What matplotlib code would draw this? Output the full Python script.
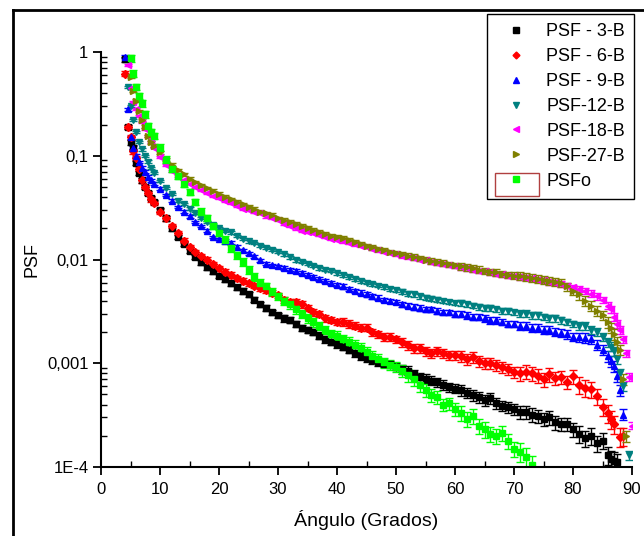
import numpy as np
import matplotlib
matplotlib.use("Agg")
import matplotlib.pyplot as plt
from matplotlib.lines import Line2D
from matplotlib.patches import Rectangle
from matplotlib.ticker import LogLocator, NullFormatter, MultipleLocator

plt.rcParams['font.family'] = ['Liberation Sans', 'DejaVu Sans']

nan = np.nan
# angle grid (degrees)
angles = ([4, 4.5, 5, 5.5, 6, 6.5, 7, 7.5, 8, 8.5] + list(range(9, 86)) +
          [86, 86.5, 87, 87.5, 88, 88.5, 89, 89.5, 90])

psf3 = [0.85, 0.19, 0.135, 0.12, 0.085, 0.068, 0.058, 0.050, 0.044, 0.039,
        0.036, 0.030, 0.025, 0.020, 0.0165, 0.0142, 0.0121, 0.0106, 0.0094, 0.0084, 0.0077, 0.0070,
        0.0065, 0.0059, 0.0054, 0.0050, 0.0046, 0.0041, 0.0037, 0.0034, 0.0031, 0.0029,
        0.0027, 0.0026, 0.0024, 0.0022, 0.0021, 0.0020, 0.00185, 0.0017, 0.0016, 0.00152,
        0.00145, 0.00135, 0.00125, 0.00118, 0.00113, 0.00108, 0.00103, 0.00099, 0.00098, 0.00093,
        0.00088, 0.00085, 0.00079, 0.00074, 0.00071, 0.00068, 0.00066, 0.00062, 0.00059, 0.00057,
        0.00055, 0.00052, 0.00049, 0.00047, 0.00044, 0.00046, 0.00041, 0.00039, 0.00038, 0.00036,
        0.00034, 0.00034, 0.00032, 0.00031, 0.00029, 0.00030, 0.00027, 0.00026, 0.00026, 0.00023,
        0.00021, 0.00019, 0.00020, 0.00017, 0.00018,
        0.00013, 0.00012, 0.000115, 0.000112, nan, nan, nan, nan, nan]

psf6 = [0.62, 0.19, 0.15, 0.11, 0.095, 0.075, 0.058, 0.050, 0.044, 0.038,
        0.035, 0.029, 0.025, 0.021, 0.018, 0.0152, 0.0132, 0.0118, 0.0108, 0.0100, 0.0090, 0.0082,
        0.0076, 0.0071, 0.0066, 0.0062, 0.0059, 0.0056, 0.0053, 0.0051, 0.0048, 0.0045,
        0.0041, 0.0039, 0.0039, 0.0037, 0.0034, 0.0031, 0.0030, 0.0027, 0.0026, 0.0025,
        0.0025, 0.0024, 0.0023, 0.0022, 0.0022, 0.0020, 0.0019, 0.0018, 0.0018, 0.0017,
        0.0016, 0.0015, 0.0014, 0.0014, 0.0013, 0.00125, 0.0013, 0.00126, 0.0012, 0.0012,
        0.00118, 0.0011, 0.00115, 0.00105, 0.0010, 0.0010, 0.00096, 0.00092, 0.00088, 0.00082,
        0.0008, 0.00083, 0.0008, 0.00076, 0.0007, 0.00078, 0.00072, 0.00074, 0.00066, 0.00075,
        0.00062, 0.00058, 0.00056, 0.00048, 0.00038,
        0.00033, 0.00029, 0.00026, nan, 0.000196, 0.0002, nan, nan, nan]

psf9 = [0.90, 0.28, 0.15, 0.12, 0.10, 0.087, 0.077, 0.070, 0.063, 0.058,
        0.054, 0.048, 0.042, 0.037, 0.032, 0.029, 0.026, 0.023, 0.021, 0.019, 0.0165, 0.0158,
        0.0152, 0.0145, 0.0132, 0.0123, 0.0115, 0.0107, 0.0098, 0.0091, 0.0088, 0.0086,
        0.0083, 0.0080, 0.0078, 0.0074, 0.0071, 0.0068, 0.0065, 0.0062, 0.0059, 0.0057,
        0.0055, 0.0052, 0.0050, 0.0048, 0.0046, 0.0044, 0.0043, 0.0041, 0.0040, 0.0039,
        0.0037, 0.0036, 0.0035, 0.0034, 0.0033, 0.0033, 0.0032, 0.0031, 0.0031, 0.0030,
        0.0030, 0.0029, 0.0028, 0.0028, 0.0027, 0.0026, 0.0026, 0.0025, 0.0024, 0.0024,
        0.0023, 0.0023, 0.0022, 0.0022, 0.0021, 0.0021, 0.0020, 0.00195, 0.0019, 0.0018,
        0.00178, 0.00175, 0.0017, 0.0015, 0.00135,
        0.00118, 0.00105, 0.00094, 0.00075, 0.00055, 0.00032, nan, nan, nan]

psf12 = [nan, 0.46, 0.30, 0.22, 0.17, 0.135, 0.115, 0.10, 0.088, 0.076,
         0.068, 0.057, 0.049, 0.043, 0.037, 0.034, 0.031, 0.028, 0.025, 0.023, 0.0215, 0.020,
         0.019, 0.0183, 0.0168, 0.0158, 0.0150, 0.0144, 0.0136, 0.0130, 0.0124, 0.0118,
         0.0112, 0.0105, 0.0099, 0.0095, 0.0091, 0.0087, 0.0083, 0.0080, 0.0078, 0.0074,
         0.0071, 0.0068, 0.0065, 0.0062, 0.0060, 0.0058, 0.0056, 0.0054, 0.0052, 0.0051,
         0.0049, 0.0047, 0.0046, 0.0044, 0.0043, 0.0042, 0.0041, 0.0040, 0.0039, 0.0038,
         0.0038, 0.0037, 0.0036, 0.0035, 0.0034, 0.0034, 0.0033, 0.0032, 0.0032, 0.0031,
         0.0030, 0.0030, 0.0029, 0.0029, 0.0028, 0.0027, 0.0027, 0.0026, 0.0025, 0.0024,
         0.0023, 0.0023, 0.0021, 0.0020, 0.0018,
         0.0016, 0.00145, 0.0013, 0.0011, 0.0008, 0.0006, nan, 0.00013, nan]

psf18 = [nan, 0.75, 0.45, 0.33, 0.28, 0.24, 0.21, 0.18, 0.155, 0.135,
         0.12, 0.097, 0.082, 0.071, 0.064, 0.059, 0.054, 0.050, 0.047, 0.044, 0.041, 0.039,
         0.037, 0.035, 0.033, 0.031, 0.030, 0.029, 0.028, 0.026, 0.025, 0.024,
         0.022, 0.021, 0.020, 0.019, 0.0185, 0.018, 0.0172, 0.0165, 0.0158, 0.0155,
         0.0150, 0.0145, 0.0140, 0.0135, 0.0132, 0.0127, 0.0123, 0.0119, 0.0116, 0.0112,
         0.0108, 0.0105, 0.0103, 0.0100, 0.0098, 0.0095, 0.0093, 0.0090, 0.0088, 0.0086,
         0.0084, 0.0082, 0.0080, 0.0078, 0.0077, 0.0075, 0.0073, 0.0072, 0.0070, 0.0069,
         0.0068, 0.0067, 0.0066, 0.0064, 0.0063, 0.0061, 0.0060, 0.0058, 0.0056, 0.0054,
         0.0052, 0.0050, 0.0047, 0.0044, 0.0041,
         0.0036, 0.0033, 0.0028, 0.0024, 0.0021, 0.0017, 0.00125, 0.00074, 0.00025]

psf27 = [nan, nan, 0.58, 0.42, 0.34, 0.27, 0.22, 0.19, 0.155, 0.135,
         0.125, 0.108, 0.092, 0.082, 0.073, 0.066, 0.060, 0.056, 0.052, 0.049, 0.046, 0.043,
         0.040, 0.038, 0.036, 0.034, 0.032, 0.031, 0.029, 0.028, 0.027, 0.025,
         0.024, 0.023, 0.022, 0.021, 0.020, 0.0192, 0.0185, 0.0178, 0.0170, 0.0165,
         0.0160, 0.0153, 0.0147, 0.0141, 0.0136, 0.0131, 0.0127, 0.0123, 0.0119, 0.0116,
         0.0112, 0.0109, 0.0106, 0.0103, 0.0100, 0.0097, 0.0095, 0.0093, 0.0090, 0.0088,
         0.0086, 0.0084, 0.0082, 0.0080, 0.0078, 0.0076, 0.0075, 0.0073, 0.0071, 0.0070,
         0.0069, 0.0068, 0.0066, 0.0065, 0.0064, 0.0062, 0.0061, 0.0060, 0.0055, 0.0050,
         0.0046, 0.0040, 0.0036, 0.0032, 0.0029,
         0.0025, 0.0022, 0.0019, 0.0016, 0.00135, 0.0007, 0.0002, nan, nan]

psfo = [nan, nan, 0.87, 0.62, 0.46, 0.38, 0.32, 0.25, 0.195, 0.17,
        0.155, 0.12, 0.092, 0.075, 0.064, 0.054, 0.045, 0.036, 0.029, 0.025, 0.021, 0.018,
        0.0155, 0.0128, 0.011, 0.0095, 0.0079, 0.0068, 0.0060, 0.0055, 0.0049, 0.0044,
        0.0040, 0.0037, 0.0033, 0.0030, 0.0027, 0.0025, 0.0023, 0.0021, 0.0019, 0.00185,
        0.0017, 0.0016, 0.0015, 0.0014, 0.00128, 0.00118, 0.0011, 0.00102, 0.00097, 0.00093,
        0.00085, 0.00077, 0.0007, 0.00062, 0.00055, 0.00049, 0.00047, 0.0004, 0.00041, 0.00036,
        0.00033, 0.00029, 0.00031, 0.00025, 0.00023, 0.00021, 0.0002, 0.000215, 0.00018, 0.00015,
        0.00014, 0.000125, 0.000105, nan, nan, nan, nan, nan, nan, nan,
        nan, nan, nan, nan, nan,
        nan, nan, nan, nan, nan, nan, nan, nan, nan]

# relative uncertainty per angle, scaled per series
rel_err = [0.05] * 22 + [0.06] * 10 + [0.07] * 10 + [0.08] * 10 + [0.10] * 10 + \
          [0.12] * 10 + [0.15] * 10 + [0.18] * 5 + [0.20] * 9
err_scale = [1.0, 1.0, 0.6, 0.5, 0.4, 0.6, 1.4]

labels = ['PSF - 3-B', 'PSF - 6-B', 'PSF - 9-B', 'PSF-12-B', 'PSF-18-B', 'PSF-27-B', 'PSFo']
series = [psf3, psf6, psf9, psf12, psf18, psf27, psfo]
colors = ['#000000', '#ff0000', '#0000ff', '#008080', '#ff00ff', '#808000', '#00ff00']
markers = ['s', 'D', '^', 'v', '<', '>', 's']
msizes = [4.5, 4.0, 5.0, 5.0, 5.0, 5.0, 4.5]
leg_sizes = [4.0, 3.5, 5.0, 5.0, 5.0, 5.0, 4.0]

fig = plt.figure(figsize=(6.44, 5.36), dpi=100)
ax = fig.add_axes([101 / 644, 1 - 467 / 536, (632 - 101) / 644, (467 - 52) / 536])

x = np.array(angles, dtype=float)
rel = np.array(rel_err)
for vals, lab, c, m, ms, f in zip(series, labels, colors, markers, msizes, err_scale):
    y = np.array(vals, dtype=float)
    ax.errorbar(x, y, yerr=y * rel * f, fmt=m, color=c, ms=ms, mec=c, mfc=c,
                elinewidth=1.0, capsize=3.2, capthick=1.0, linestyle='none')

ax.set_yscale('log')
ax.set_ylim(1e-4, 1)
ax.set_xlim(0, 90)

for s in ['top', 'right']:
    ax.spines[s].set_visible(False)
for s in ['left', 'bottom']:
    ax.spines[s].set_linewidth(1.5)

ax.set_yticks([1e-4, 1e-3, 1e-2, 1e-1, 1])
ax.set_yticklabels(['1E-4', '0,001', '0,01', '0,1', '1'])
ax.yaxis.set_minor_locator(LogLocator(base=10, subs=np.arange(2, 10)))
ax.yaxis.set_minor_formatter(NullFormatter())
ax.xaxis.set_major_locator(MultipleLocator(10))
ax.xaxis.set_minor_locator(MultipleLocator(5))

ax.tick_params(which='major', direction='out', length=6, width=1.3, labelsize=12, pad=3)
ax.tick_params(axis='x', which='major', pad=5)
ax.tick_params(which='minor', direction='in', length=4, width=1.0)

ax.set_xlabel('Ángulo (Grados)', fontsize=14, labelpad=9)
ax.set_ylabel('PSF', fontsize=13, labelpad=5)

handles = [Line2D([], [], linestyle='none', marker=m, color=c, ms=ms)
           for c, m, ms in zip(colors, markers, leg_sizes)]
leg = fig.legend(handles, labels, loc='upper right',
                 bbox_to_anchor=(634 / 644, 1 - 14 / 536), bbox_transform=fig.transFigure,
                 fontsize=13, frameon=True, fancybox=False, edgecolor='black',
                 framealpha=1, handlelength=2.2, handletextpad=0.55,
                 labelspacing=0.44, borderpad=0.5, borderaxespad=0)
leg.get_frame().set_linewidth(1.0)

# selection rectangle around last legend entry
fig.add_artist(Rectangle((495 / 644, 1 - 196 / 536), 44 / 644, 23 / 536,
                         transform=fig.transFigure, fill=False,
                         edgecolor='#b04040', linewidth=1.0, zorder=20))

# outer frame of the page
fig.add_artist(Line2D([13 / 644, 13 / 644], [0, 1 - 10 / 536], transform=fig.transFigure,
                      color='black', lw=2))
fig.add_artist(Line2D([13 / 644, 1], [1 - 10 / 536, 1 - 10 / 536], transform=fig.transFigure,
                      color='black', lw=2))

fig.savefig('out.png', dpi=100)
